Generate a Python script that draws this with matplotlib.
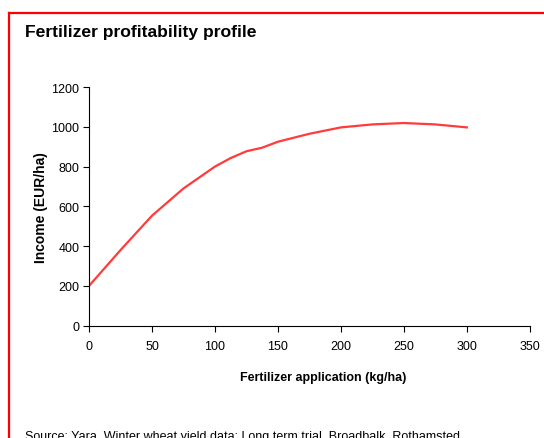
import matplotlib
matplotlib.use("Agg")
import matplotlib.pyplot as plt
from matplotlib.lines import Line2D

# fertilizer rate (kg/ha) and income (EUR/ha)
fert = [0, 25, 50, 75, 100, 112.5, 125, 137.5, 150, 175, 200, 225, 250, 275, 300]
income = [200, 380, 553, 690, 800, 843, 877, 895, 925, 965, 997, 1012, 1019, 1012, 997]

x_ticks = [0, 50, 100, 150, 200, 250, 300, 350]
y_ticks = [0, 200, 400, 600, 800, 1000, 1200]

plt.rcParams['font.family'] = ['Liberation Sans', 'DejaVu Sans']

fig = plt.figure(figsize=(5.44, 4.39), dpi=100)
ax = fig.add_axes([0.1636, 0.2558, 0.8104, 0.5437])

ax.plot(fert, income, color='#ff3b3b', lw=1.6)

ax.set_xlim(0, 350)
ax.set_ylim(0, 1200)
ax.set_xticks(x_ticks)
ax.set_yticks(y_ticks)
ax.tick_params(labelsize=9, length=4, width=0.8, direction='out')
ax.tick_params(axis='y', pad=3)
ax.tick_params(axis='x', pad=6)
for s in ['top', 'right']:
    ax.spines[s].set_visible(False)
for s in ['left', 'bottom']:
    ax.spines[s].set_linewidth(0.8)

ax.set_xlabel('Fertilizer application (kg/ha)', fontsize=9, fontweight='bold', va='center')
ax.xaxis.set_label_coords((323.5 - 89) / 441, (326.7 - 378) / 239)
ax.set_ylabel('Income (EUR/ha)', fontsize=10, fontweight='bold', va='center')
ax.yaxis.set_label_coords((41 - 89) / 441, 0.5)

fig.text(25 / 544, 1 - 33 / 439, 'Fertilizer profitability profile', fontsize=12.6,
         fontweight='bold', va='center', ha='left')
fig.text(25 / 544, 1 - 437 / 439, 'Source: Yara. Winter wheat yield data: Long term trial, Broadbalk, Rothamsted',
         fontsize=9, va='center', ha='left')

# red frame around the panel
fig.add_artist(Line2D([9 / 544, 1.0], [1 - 14 / 439, 1 - 14 / 439], color='red', lw=1.6,
                      transform=fig.transFigure))
fig.add_artist(Line2D([9 / 544, 9 / 544], [1 - 14 / 439, 0.0], color='red', lw=1.6,
                      transform=fig.transFigure))

fig.savefig('out.png', dpi=100)
